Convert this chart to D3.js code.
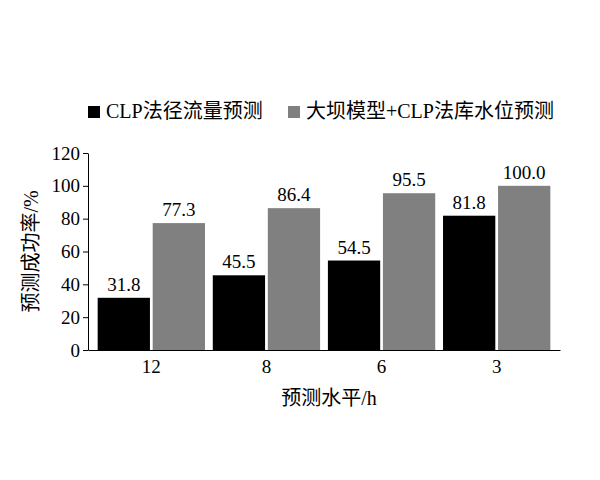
<!DOCTYPE html>
<html><head><meta charset="utf-8">
<script src="https://cdn.jsdelivr.net/npm/d3@7"></script>
<style>body{margin:0;background:#fff}text{font-family:"Liberation Serif","Noto Sans CJK SC",serif}</style>
</head><body>
<svg id="chart" width="600" height="480"></svg>
<script>
const categories = ["12", "8", "6", "3"];
const seriesNames = ["CLP法径流量预测", "大坝模型+CLP法库水位预测"];
const clpValues = [31.8, 45.5, 54.5, 81.8];
const damValues = [77.3, 86.4, 95.5, 100.0];
const yTicks = [0, 20, 40, 60, 80, 100, 120];
const colors = ["#000000", "#808080"];

const svg = d3.select("#chart");
const mLeft = 88, mRight = 560, mTop = 153, mBottom = 350;

const x = d3.scaleBand().domain(categories).range([mLeft, mRight]).paddingInner(0.02).paddingOuter(0.06);
const xs = d3.scaleBand().domain([0, 1]).range([0, x.bandwidth()]).padding(0.05);
const y = d3.scaleLinear().domain([0, 120]).range([mBottom, mTop]);

svg.append("g").attr("transform", `translate(${mLeft},0)`)
  .call(d3.axisLeft(y).tickValues(yTicks).tickSize(5).tickSizeOuter(0))
  .call(g => g.selectAll("text").attr("font-size", 19).attr("fill", "#000"));
svg.append("g").attr("transform", `translate(0,${mBottom})`)
  .call(d3.axisBottom(x).tickSize(0).tickSizeOuter(0).tickPadding(10))
  .call(g => g.selectAll("text").attr("font-size", 19).attr("fill", "#000"));

const data = categories.map((c, i) => ({c, v: [clpValues[i], damValues[i]]}));
const grp = svg.append("g").selectAll("g").data(data).join("g")
  .attr("transform", d => `translate(${x(d.c)},0)`);
grp.selectAll("rect").data(d => d.v.map((v, k) => ({v, k}))).join("rect")
  .attr("x", d => xs(d.k)).attr("width", xs.bandwidth())
  .attr("y", d => y(d.v)).attr("height", d => mBottom - y(d.v))
  .attr("fill", d => colors[d.k]);
grp.selectAll("text.lbl").data(d => d.v.map((v, k) => ({v, k}))).join("text")
  .attr("class", "lbl")
  .attr("x", d => xs(d.k) + xs.bandwidth() / 2).attr("y", d => y(d.v) - 7)
  .attr("text-anchor", "middle").attr("font-size", 19).text(d => d.v.toFixed(1));

const leg = svg.append("g").attr("transform", "translate(88,118)");
const lx = [0, 200];
seriesNames.forEach((n, i) => {
  leg.append("rect").attr("x", lx[i]).attr("y", -12).attr("width", 12).attr("height", 12).attr("fill", colors[i]);
  leg.append("text").attr("x", lx[i] + 18).attr("y", 0).attr("font-size", 20).text(n);
});

svg.append("text").attr("x", (mLeft + mRight) / 2 + 5).attr("y", 405).attr("text-anchor", "middle")
  .attr("font-size", 20).text("预测水平/h");
svg.append("text").attr("transform", `translate(38,${(mTop + mBottom) / 2}) rotate(-90)`)
  .attr("text-anchor", "middle").attr("font-size", 20).text("预测成功率/%");
</script>
</body></html>
